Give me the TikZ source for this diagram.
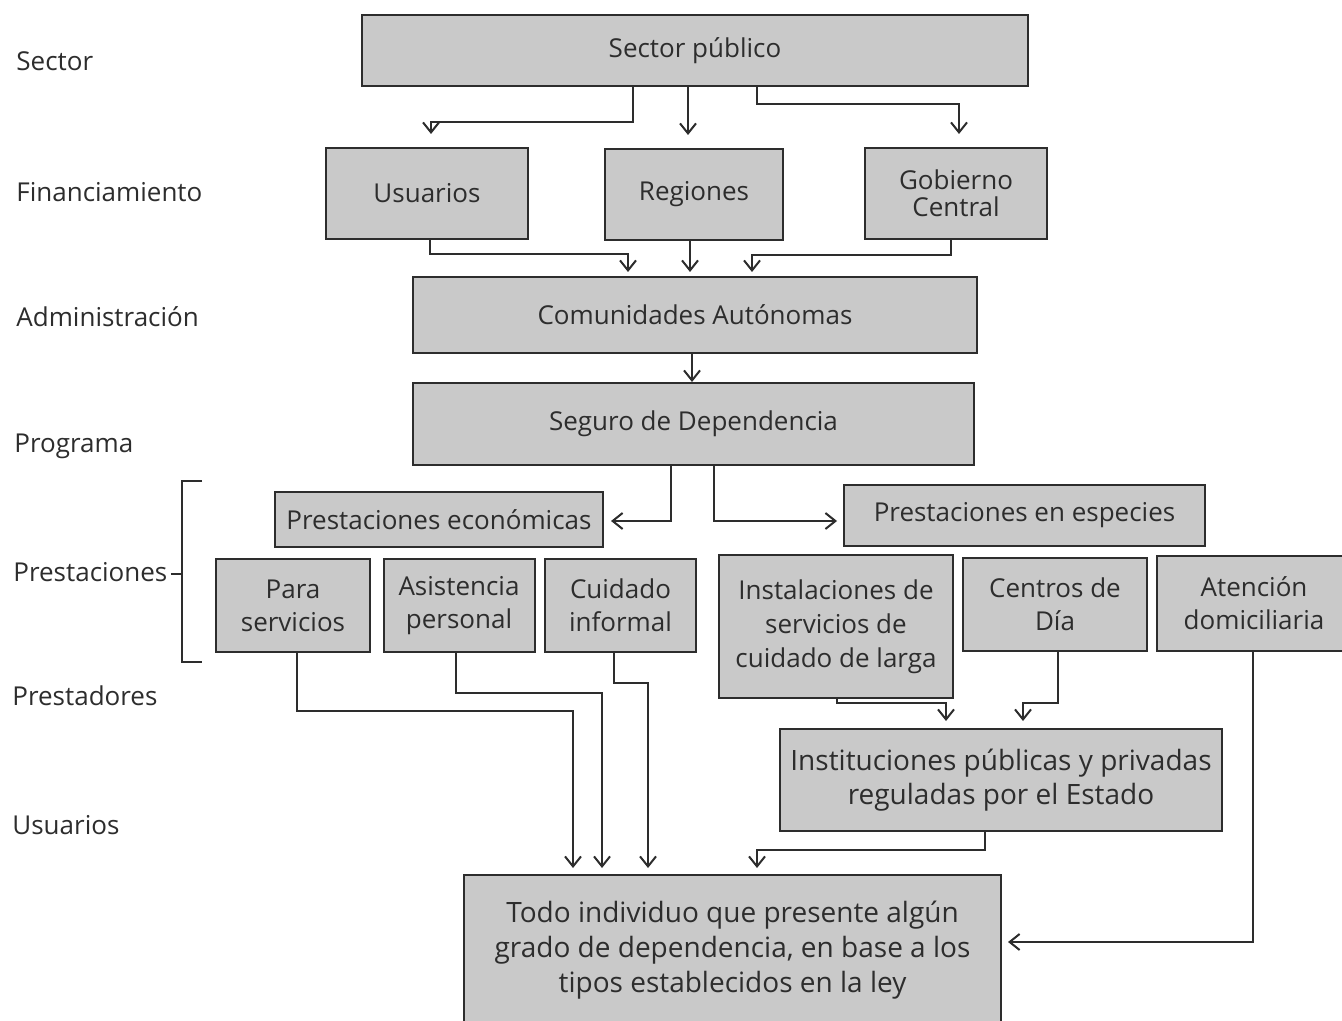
\documentclass[tikz,border=0pt]{standalone}
\usepackage{fontspec}
\setmainfont{Open Sans}
\usetikzlibrary{arrows.meta}
\definecolor{boxgray}{RGB}{201,201,201}
\definecolor{ink}{RGB}{45,45,45}
\begin{document}
\begin{tikzpicture}[x=0.5pt,y=-0.5pt,
  font=\fontsize{13}{16.5}\selectfont, text=ink,
  box/.style={draw=ink, fill=boxgray, line width=1pt, inner sep=0pt, align=center},
  arr/.style={draw=ink, line width=1pt, -{Straight Barb[length=5pt,width=8pt]}},
  link/.style={draw=ink, line width=1pt},
  lab/.style={anchor=base west, inner sep=0pt}]
\clip (0,0) rectangle (1342,1021);
\fill[white] (0,0) rectangle (1342,1021);

% row labels
\node[lab] (lsector) at (16,71) {Sector};
\node[lab] (lfin)    at (16,202) {Financiamiento};
\node[lab] (ladm)    at (16,327) {Administración};
\node[lab] (lprog)   at (14,452) {Programa};
\node[lab] (lprest)  at (13,581) {Prestaciones};
\node[lab] (lprestad) at (12,705) {Prestadores};
\node[lab] (lusu)    at (12,834) {Usuarios};

% bracket grouping the benefits rows
\coordinate (brk) at (182,574);
\draw[link] (202,481) -- (182,481) -- (182,662) -- (202,662);
\draw[link] ([xshift=1.5pt]lprest.east |- brk) -- (brk);

% boxes
\node[box, minimum width=333pt, minimum height=35.5pt] (sector) at (695,50.5) {Sector público};
\node[box, minimum width=101pt, minimum height=45.5pt] (usu) at (427,193.5) {Usuarios};
\node[box, minimum width=89pt, minimum height=45.5pt] (reg) at (694,194.5) {Regiones};
\node[box, minimum width=91pt, minimum height=45.5pt, font=\fontsize{13}{13.5}\selectfont] (gob) at (956,193.5) {Gobierno\\Central};
\node[box, minimum width=282pt, minimum height=38pt] (com) at (695,315) {Comunidades Autónomas};
\node[box, minimum width=280.5pt, minimum height=41pt] (seg) at (693.5,424) {Seguro de Dependencia};
\node[box, minimum width=164pt, minimum height=27.5pt] (pecon) at (439,519.5) {Prestaciones económicas};
\node[box, minimum width=180.5pt, minimum height=30.5pt] (pesp) at (1024.5,515.5) {Prestaciones en especies};
\node[box, minimum width=77pt, minimum height=46.5pt] (para) at (293,605.5) {Para\\servicios};
\node[box, minimum width=75.5pt, minimum height=46.5pt] (asis) at (459,605.5) {Asistencia\\personal};
\node[box, minimum width=75.5pt, minimum height=46.5pt] (cuid) at (620.5,605.5) {Cuidado\\informal};
\node[box, minimum width=117pt, minimum height=71.5pt, font=\fontsize{13}{17}\selectfont] (inst) at (836,626.5) {Instalaciones de\\servicios de\\cuidado de larga};
\node[box, minimum width=92pt, minimum height=46.5pt] (cent) at (1055,604) {Centros de\\Día};
\node[box, minimum width=97pt, minimum height=47.5pt] (aten) at (1254,603.5) {Atención\\domiciliaria};
\node[box, minimum width=221pt, minimum height=51pt, font=\fontsize{14}{17}\selectfont] (ipub) at (1001,780) {Instituciones públicas y privadas\\reguladas por el Estado};
\node[box, minimum width=268.5pt, minimum height=75pt, font=\fontsize{14}{17.5}\selectfont] (todo) at (732.5,950) {Todo individuo que presente algún\\grado de dependencia, en base a los\\tipos establecidos en la ley};

% public sector to funding sources
\draw[arr, shorten >=6.5pt] (sector.south -| 633,0) -- (633,122) -- (431,122) -- (431,0 |- usu.north);
\draw[arr, shorten >=6.5pt] (sector.south -| 688,0) -- (688,0 |- reg.north);
\draw[arr, shorten >=6.5pt] (sector.south -| 757,0) -- (757,104) -- (959,104) -- (959,0 |- gob.north);

% funding sources to autonomous communities
\draw[arr, shorten >=2pt] (usu.south -| 430,0) -- (430,254) -- (628,254) -- (628,0 |- com.north);
\draw[arr, shorten >=2pt] (reg.south -| 690,0) -- (690,0 |- com.north);
\draw[arr, shorten >=2pt] (gob.south -| 951,0) -- (951,255) -- (752,255) -- (752,0 |- com.north);

\draw[arr] (com.south -| 692,0) -- (692,0 |- seg.north);

% insurance to the two kinds of benefits
\draw[arr, shorten >=3.5pt] (seg.south -| 671,0) -- (671,521) -- (pecon.east |- 0,521);
\draw[arr, shorten >=3pt] (seg.south -| 714,0) -- (714,521) -- (pesp.west |- 0,521);

% cash benefits to beneficiaries
\draw[arr, shorten >=3pt] (para.south -| 297,0) -- (297,711) -- (573,711) -- (573,0 |- todo.north);
\draw[arr, shorten >=3pt] (asis.south -| 456,0) -- (456,693) -- (602,693) -- (602,0 |- todo.north);
\draw[arr, shorten >=3pt] (cuid.south -| 614,0) -- (614,683) -- (648,683) -- (648,0 |- todo.north);

% in-kind benefits to providers
\draw[arr, shorten >=3.5pt] (inst.south -| 837,0) -- (837,703) -- (946,703) -- (946,0 |- ipub.north);
\draw[arr, shorten >=3.5pt] (cent.south -| 1058,0) -- (1058,703) -- (1023,703) -- (1023,0 |- ipub.north);

% providers and home care to beneficiaries
\draw[arr, shorten >=3pt] (ipub.south -| 985,0) -- (985,850) -- (757,850) -- (757,0 |- todo.north);
\draw[arr, shorten >=3pt] (aten.south -| 1253,0) -- (1253,942) -- (todo.east |- 0,942);
\end{tikzpicture}
\end{document}
